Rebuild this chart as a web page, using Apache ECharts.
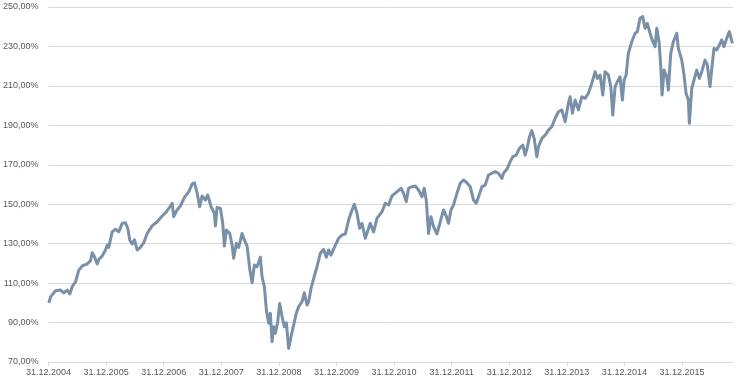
<!DOCTYPE html>
<html>
<head>
<meta charset="utf-8">
<script src="https://cdn.jsdelivr.net/npm/echarts@6/dist/echarts.min.js"></script>
<style>
html,body{margin:0;padding:0;background:#fff;}
#chart{width:740px;height:384px;}
</style>
</head>
<body>
<div id="chart"></div>
<script>
// years elapsed since 31.12.2004
const yearsSince = [
0.005,0.035,0.121,0.208,0.265,0.324,0.370,0.411,0.469,0.526,0.585,0.672,0.729,0.758,0.798,0.845,0.873,0.932,0.989,
1.019,1.046,1.105,1.163,1.220,1.279,1.336,1.376,1.411,1.452,1.492,1.539,1.596,1.654,1.713,1.799,1.886,1.973,
2.048,2.117,2.147,2.174,2.233,2.290,2.360,2.434,2.494,2.533,2.580,2.625,2.667,2.724,2.764,2.823,2.880,2.898,2.927,2.985,
3.025,3.054,3.089,3.146,3.188,3.215,3.262,3.302,3.361,3.401,3.448,3.493,3.535,3.575,3.621,3.679,3.708,3.748,3.783,3.823,3.852,3.882,3.909,3.939,3.979,
4.014,4.055,4.095,4.130,4.170,4.211,4.256,4.303,4.343,4.402,4.442,4.489,4.517,4.558,4.616,4.662,4.720,4.777,4.824,4.864,4.905,4.963,
5.037,5.096,5.154,5.211,5.270,5.310,5.357,5.402,5.443,5.501,5.558,5.587,5.645,5.704,5.791,5.848,5.905,5.964,
6.051,6.120,6.165,6.212,6.252,6.311,6.368,6.426,6.485,6.524,6.559,6.599,6.641,6.686,6.745,6.802,6.859,6.906,6.946,6.988,
7.033,7.092,7.149,7.206,7.265,7.323,7.380,7.427,7.467,7.526,7.583,7.640,7.699,7.756,7.814,7.873,7.900,7.959,
8.017,8.063,8.121,8.178,8.237,8.277,8.317,8.352,8.393,8.433,8.480,8.508,8.567,8.624,8.681,8.740,8.797,8.855,8.914,8.971,
9.028,9.058,9.098,9.145,9.202,9.261,9.318,9.375,9.434,9.492,9.532,9.578,9.625,9.665,9.722,9.764,9.798,9.839,9.878,9.925,9.965,9.995,
10.030,10.069,10.128,10.186,10.226,10.272,10.319,10.359,10.399,10.446,10.493,10.533,10.562,10.602,10.632,10.654,10.689,10.736,10.763,10.805,10.850,10.909,10.937,10.996,
11.036,11.071,11.111,11.128,11.170,11.210,11.256,11.302,11.343,11.400,11.440,11.487,11.521,11.556,11.603,11.648,11.690,11.730,11.777,11.823,11.847,11.875
];
// index level in percent
const indexValues = [
100.0,103.0,106.1,106.5,105.0,106.5,104.5,108.2,110.7,116.6,118.7,119.7,121.4,125.4,123.4,119.7,122.0,123.7,126.8,
129.3,128.1,136.0,137.3,136.0,140.3,140.6,137.8,131.9,129.8,131.9,126.8,128.1,130.5,135.2,139.0,141.1,144.0,
146.2,149.1,150.5,143.7,147.1,149.1,153.5,156.3,160.2,160.9,155.8,148.7,154.2,152.1,154.7,148.7,145.4,139.0,148.4,147.9,
140.3,128.8,136.9,135.2,129.3,122.6,130.2,128.1,135.2,131.9,128.8,117.5,110.2,119.2,118.3,123.1,113.2,108.2,96.3,89.6,94.7,80.3,87.9,84.5,90.4,
99.7,93.0,87.9,89.9,76.9,82.8,88.7,94.7,98.0,100.6,105.1,98.9,100.6,107.3,113.6,118.3,125.1,127.1,123.1,126.8,124.2,128.1,
132.7,134.4,134.9,142.0,147.1,150.0,145.4,137.8,140.3,132.7,137.8,140.3,136.0,142.8,146.2,150.5,149.6,154.2,
156.3,158.1,155.5,151.3,158.1,158.9,159.2,157.2,153.8,158.1,152.1,135.2,143.7,138.6,134.9,141.1,147.1,144.0,140.3,147.1,
149.6,155.5,160.6,162.3,160.9,158.9,152.1,150.5,153.8,158.9,159.7,164.8,165.7,166.5,165.7,163.1,165.7,167.7,
171.6,174.1,174.9,178.3,180.0,174.9,179.2,184.2,187.3,183.4,174.1,179.2,183.4,185.0,187.6,189.3,193.6,196.9,197.8,191.8,
201.2,204.5,196.1,202.8,197.8,204.5,203.7,206.2,211.3,217.2,213.8,215.5,205.4,217.2,215.5,209.6,195.2,209.6,212.1,214.6,202.8,213.0,
215.5,226.5,232.4,236.7,237.5,244.3,245.1,239.2,241.7,236.7,232.4,229.9,239.2,232.4,219.7,205.4,218.0,214.6,207.9,226.5,232.4,236.7,229.0,223.1,
215.5,206.2,202.8,191.0,208.8,213.0,218.0,213.8,217.2,223.1,220.6,209.6,219.7,229.0,228.2,230.7,233.3,229.9,234.1,237.5,234.9,231.6
];
const xTickLabels = ['31.12.2004','31.12.2005','31.12.2006','31.12.2007','31.12.2008','31.12.2009',
  '31.12.2010','31.12.2011','31.12.2012','31.12.2013','31.12.2014','31.12.2015'];

const seriesData = yearsSince.map((t, i) => [t, indexValues[i]]);

const chart = echarts.init(document.getElementById('chart'), null, {renderer: 'canvas'});
chart.setOption({
  animation: false,
  backgroundColor: '#ffffff',
  grid: {left: 48, right: 7, top: 7, bottom: 22, containLabel: false},
  xAxis: {
    type: 'value',
    min: 0,
    max: 11.886,
    interval: 1,
    axisLine: {show: true, lineStyle: {color: '#d9d9d9', width: 1}},
    axisTick: {show: true, length: 4, lineStyle: {color: '#d9d9d9'}},
    splitLine: {show: false},
    axisLabel: {
      show: true,
      showMaxLabel: false,
      margin: 6,
      color: '#595959',
      fontSize: 9,
      fontFamily: 'Liberation Sans',
      formatter: function (v) {
        const i = Math.round(v);
        return (Math.abs(v - i) < 1e-6 && xTickLabels[i]) ? xTickLabels[i] : '';
      }
    }
  },
  yAxis: {
    type: 'value',
    min: 70,
    max: 250,
    interval: 20,
    axisLine: {show: false},
    axisTick: {show: false},
    splitLine: {show: true, lineStyle: {color: '#d9d9d9', width: 1}},
    axisLabel: {
      margin: 10,
      color: '#595959',
      fontSize: 9,
      fontFamily: 'Liberation Sans',
      formatter: function (v) { return v.toFixed(2).replace('.', ',') + '%'; }
    }
  },
  series: [{
    type: 'line',
    data: seriesData,
    showSymbol: false,
    symbol: 'none',
    smooth: false,
    lineStyle: {color: '#7890a8', width: 3, join: 'round'},
    z: 3
  }]
});
</script>
</body>
</html>
